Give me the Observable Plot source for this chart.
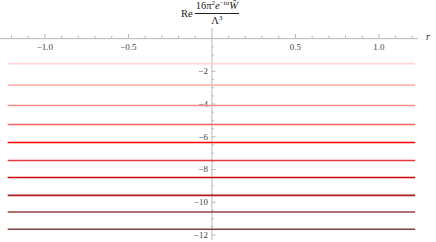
<!DOCTYPE html>
<html>
<head>
<meta charset="utf-8">
<script src="https://cdn.jsdelivr.net/npm/d3@7"></script>
<script src="https://cdn.jsdelivr.net/npm/@observablehq/plot@0.6"></script>
<style>
  body { margin: 0; background: #fff; }
  #wrap { position: relative; width: 436px; height: 242px; }
  #title { position: absolute; top: 0px; left: 181px; font-family: "Liberation Serif", serif; font-size: 10.5px; color: #222; display: flex; align-items: center; }
  .frac { display: inline-flex; flex-direction: column; align-items: center; margin-left: 2px; }
  .num { border-bottom: 0.8px solid #222; padding: 0 1px 1px 1px; line-height: 12px; }
  .den { line-height: 12px; padding-top: 1px; }
  sup { font-size: 7px; vertical-align: 4px; line-height: 0; }
  #rlabel { position: absolute; left: 426px; top: 31px; font-family: "Liberation Serif", serif; font-size: 10px; font-style: italic; color: #222; }
</style>
</head>
<body>
<div id="wrap">
  <div id="chart"></div>
  <div id="title"><span>Re</span><span class="frac"><span class="num">16π<sup>2</sup><i>e</i><sup>−<i>i</i>α</sup><i>Ŵ</i></span><span class="den">Λ<sup>3</sup></span></span></div>
  <div id="rlabel">r</div>
</div>
<script>
// r extent of the plotted curves
const rExtent = [-1.22, 1.22];
// constant levels of each curve (Re value), top to bottom
const levels = [-1.53, -2.84, -4.09, -5.25, -6.35, -7.45, -8.49, -9.58, -10.6, -11.65];
const colors = ["#ffd6d6", "#ffb3b3", "#ff8c8c", "#ff6060", "#ff0000", "#e83838", "#cc0000", "#b01c1c", "#924040", "#804040"];
// axis ticks
const xMajor = [-1.0, -0.5, 0.5, 1.0];
const xMinor = [-1.2, -1.1, -0.9, -0.8, -0.7, -0.6, -0.4, -0.3, -0.2, -0.1, 0.1, 0.2, 0.3, 0.4, 0.6, 0.7, 0.8, 0.9, 1.1, 1.2];
const yMajor = [-2, -4, -6, -8, -10, -12];
const yMinor = [-0.5, -1, -1.5, -2.5, -3, -3.5, -4.5, -5, -5.5, -6.5, -7, -7.5, -8.5, -9, -9.5, -10.5, -11, -11.5];

const xDomain = [-1.266, 1.237];
const yDomain = [-12.34, 0.62];
const axisColor = "#b8b8b8";
const fmtX = d3.format(".1f");
const fmtY = d3.format("d");

const curves = levels.map((v, i) => ({v, c: colors[i]}));

const chart = Plot.plot({
  width: 436,
  height: 242,
  marginLeft: 0,
  marginRight: 18,
  marginTop: 28,
  marginBottom: 2,
  x: {domain: xDomain, axis: null},
  y: {domain: yDomain, axis: null},
  style: {background: "#fff", fontFamily: "Liberation Serif, serif", fontSize: "9px"},
  marks: [
    Plot.ruleY([0], {x1: xDomain[0], x2: xDomain[1], stroke: axisColor, strokeWidth: 1}),
    Plot.ruleX([0], {y1: yDomain[0], y2: yDomain[1], stroke: axisColor, strokeWidth: 1}),
    Plot.ruleX(xMajor, {x: d => d, y1: 0, y2: 0.26, stroke: axisColor}),
    Plot.ruleX(xMinor, {x: d => d, y1: 0, y2: 0.15, stroke: axisColor}),
    Plot.ruleY(yMajor, {y: d => d, x1: 0, x2: 0.024, stroke: axisColor}),
    Plot.ruleY(yMinor, {y: d => d, x1: 0, x2: 0.014, stroke: axisColor}),
    Plot.text(xMajor, {x: d => d, y: 0, text: d => fmtX(d), dy: 8, fill: "#444", fontSize: 9}),
    Plot.text(yMajor, {x: 0, y: d => d, text: d => fmtY(d), dx: -4, textAnchor: "end", fill: "#444", fontSize: 9}),
    Plot.ruleY(curves, {y: "v", x1: rExtent[0], x2: rExtent[1], stroke: "c", strokeWidth: 1.6})
  ]
});
document.getElementById("chart").appendChild(chart);
</script>
</body>
</html>
